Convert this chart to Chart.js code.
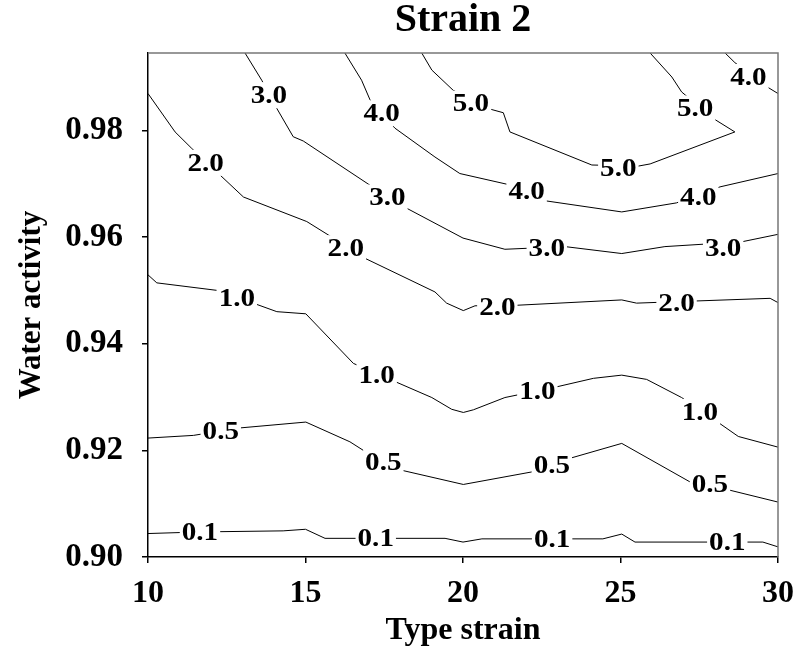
<!DOCTYPE html>
<html>
<head>
<meta charset="utf-8">
<title>Strain 2</title>
<script src="https://cdn.jsdelivr.net/npm/chart.js@4.4.0/dist/chart.umd.min.js"></script>
<style>
  html, body { margin: 0; padding: 0; background: #fff; }
</style>
</head>
<body>
<canvas id="contourChart" width="798" height="653"></canvas>
<script>
// Strain 2 contour plot: x = type strain, y = water activity
const xTicks = [10, 15, 20, 25, 30];
const yTicks = [0.90, 0.92, 0.94, 0.96, 0.98];
const levels = ['0.1', '0.5', '1.0', '2.0', '3.0', '4.0', '5.0', '4.0'];

// contour lines
const c01X = [10, 11.65, 14.29, 15.0, 15.62, 19.43, 20.0, 20.6, 24.44, 25.04, 25.46, 29.52, 30];
const c01Y = [0.9044, 0.9047, 0.9049, 0.9052, 0.9035, 0.9035, 0.9028, 0.9034, 0.9034, 0.9043, 0.9028, 0.9028, 0.9019];
const c05X = [10, 11.44, 12.92, 15.01, 16.41, 16.94, 18.10, 20.01, 22.23, 23.45, 25.04, 27.26, 28.42, 30];
const c05Y = [0.9223, 0.9228, 0.9242, 0.9253, 0.9216, 0.9196, 0.9162, 0.9136, 0.9160, 0.9186, 0.9213, 0.9139, 0.9126, 0.9103];
const c10X = [10, 10.28, 12.18, 13.34, 14.09, 15.01, 16.52, 17.84, 19.01, 19.64, 20.01, 20.33, 21.33, 22.97, 24.14, 25.04, 25.83, 26.94, 28.11, 28.74, 30];
const c10Y = [0.9529, 0.9514, 0.9500, 0.9476, 0.9460, 0.9456, 0.9363, 0.9329, 0.9299, 0.9277, 0.9271, 0.9276, 0.9299, 0.9319, 0.9335, 0.9341, 0.9333, 0.9299, 0.9252, 0.9226, 0.9206];
const c20X = [10, 10.86, 11.39, 12.29, 13.03, 15.04, 15.72, 16.89, 19.11, 19.48, 20.01, 20.38, 21.70, 25.04, 25.51, 27.37, 29.75, 30];
const c20Y = [0.9869, 0.9797, 0.9766, 0.9716, 0.9675, 0.9629, 0.9604, 0.9560, 0.9497, 0.9476, 0.9462, 0.9471, 0.9472, 0.9482, 0.9476, 0.9480, 0.9485, 0.9477];
const c30X = [13.08, 13.61, 14.09, 14.61, 14.93, 17.05, 18.21, 20.0, 21.33, 23.24, 25.04, 26.41, 28.85, 30];
const c30Y = [0.9945, 0.9894, 0.9841, 0.9788, 0.9780, 0.9697, 0.9654, 0.9598, 0.9577, 0.9582, 0.9569, 0.9582, 0.9591, 0.9605];
const c40X = [16.25, 16.78, 17.05, 17.84, 19.11, 19.90, 21.39, 22.60, 25.04, 26.78, 28.16, 30];
const c40Y = [0.9945, 0.9894, 0.9857, 0.9804, 0.9750, 0.9719, 0.9699, 0.9668, 0.9647, 0.9664, 0.9694, 0.9719];
const c50X = [18.69, 19.01, 19.69, 20.91, 21.28, 21.49, 24.09, 25.57, 25.94, 28.63, 27.95, 26.94, 26.63, 25.94];
const c50Y = [0.9945, 0.9913, 0.9875, 0.9839, 0.9833, 0.9797, 0.9735, 0.9733, 0.9737, 0.9797, 0.9822, 0.9872, 0.9900, 0.9945];
const c40bX = [28.32, 28.63, 29.64, 30];
const c40bY = [0.9945, 0.9927, 0.9882, 0.9869];

// where the level labels sit on each line
const l01X = [11.65, 17.23, 22.83, 28.39];
const l01Y = [0.9047, 0.9035, 0.9034, 0.9028];
const l05X = [12.31, 17.47, 22.82, 27.84];
const l05Y = [0.9235, 0.9178, 0.9172, 0.9136];
const l10X = [12.82, 17.26, 22.36, 27.52];
const l10Y = [0.9485, 0.9341, 0.9310, 0.9272];
const l20X = [11.83, 16.28, 21.09, 26.78];
const l20Y = [0.9739, 0.9579, 0.9469, 0.9476];
const l30X = [13.84, 17.60, 22.66, 28.26];
const l30Y = [0.9866, 0.9674, 0.9579, 0.9579];
const l40X = [17.42, 22.02, 27.47];
const l40Y = [0.9832, 0.9685, 0.9675];
const l50X = [20.25, 24.93, 27.37];
const l50Y = [0.9850, 0.9729, 0.9841];
const l40bX = [29.06];
const l40bY = [0.9900];

const lineXs = [c01X, c05X, c10X, c20X, c30X, c40X, c50X, c40bX];
const lineYs = [c01Y, c05Y, c10Y, c20Y, c30Y, c40Y, c50Y, c40bY];
const labelXs = [l01X, l05X, l10X, l20X, l30X, l40X, l50X, l40bX];
const labelYs = [l01Y, l05Y, l10Y, l20Y, l30Y, l40Y, l50Y, l40bY];

const serif = "'Liberation Serif', 'Times New Roman', serif";

function zip(xs, ys) {
    return xs.map((x, i) => ({ x: x, y: ys[i] }));
}

const datasets = levels.map((lvl, i) => ({
    label: lvl,
    data: zip(lineXs[i], lineYs[i]),
    labelPoints: zip(labelXs[i], labelYs[i]),
    borderColor: '#000',
    borderWidth: 1,
    pointRadius: 0,
    showLine: true,
    fill: false,
    tension: 0
}));

// level numbers written on the lines, with a white gap behind them
const contourLabels = {
    id: 'contourLabels',
    afterDatasetsDraw(chart) {
        const ctx = chart.ctx;
        const xs = chart.scales.x;
        const ys = chart.scales.y;
        const stretch = 1.12;
        ctx.save();
        ctx.font = "bold 26px " + serif;
        ctx.textAlign = 'center';
        ctx.textBaseline = 'middle';
        chart.data.datasets.forEach(ds => {
            ds.labelPoints.forEach(p => {
                const px = xs.getPixelForValue(p.x);
                const py = ys.getPixelForValue(p.y);
                const w = ctx.measureText(ds.label).width * stretch;
                ctx.fillStyle = '#fff';
                ctx.fillRect(px - w / 2 - 2, py - 13, w + 4, 26);
                ctx.save();
                ctx.translate(px, py);
                ctx.scale(stretch, 1);
                ctx.fillStyle = '#000';
                ctx.fillText(ds.label, 0, 1);
                ctx.restore();
            });
        });
        ctx.restore();
    }
};

// grey top and right edges of the frame
const frame = {
    id: 'frame',
    afterDraw(chart) {
        const { left, right, top, bottom } = chart.chartArea;
        const ctx = chart.ctx;
        ctx.save();
        ctx.strokeStyle = '#777';
        ctx.lineWidth = 1.5;
        ctx.beginPath();
        ctx.moveTo(left, top);
        ctx.lineTo(right, top);
        ctx.lineTo(right, bottom);
        ctx.stroke();
        ctx.restore();
    }
};

new Chart(document.getElementById('contourChart'), {
    type: 'scatter',
    data: { datasets: datasets },
    plugins: [contourLabels, frame],
    options: {
        responsive: false,
        animation: false,
        layout: { padding: { top: 0, right: 20, left: 0, bottom: 0 } },
        plugins: {
            legend: { display: false },
            tooltip: { enabled: false },
            title: {
                display: true,
                text: 'Strain 2',
                fullSize: false,
                color: '#000',
                font: { family: serif, size: 40, weight: 'bold', lineHeight: 1.0 },
                padding: { top: 1, bottom: 12 }
            }
        },
        scales: {
            x: {
                type: 'linear',
                min: 10,
                max: 30,
                afterBuildTicks: s => { s.ticks = xTicks.map(v => ({ value: v })); },
                afterFit: s => { s.height = 96; s.paddingLeft = 0; s.paddingRight = 0; },
                grid: { drawOnChartArea: false, drawTicks: true, tickLength: 6, color: '#000', lineWidth: 1.5 },
                border: { display: true, color: '#000', width: 1.5 },
                ticks: {
                    color: '#000',
                    font: { family: serif, size: 32, weight: 'bold' },
                    padding: 12,
                    maxRotation: 0,
                    autoSkip: false
                },
                title: {
                    display: true,
                    text: 'Type strain',
                    color: '#000',
                    font: { family: serif, size: 32, weight: 'bold' },
                    padding: { top: 0, bottom: 3 }
                }
            },
            y: {
                type: 'linear',
                min: 0.90,
                max: 0.9945,
                afterBuildTicks: s => { s.ticks = yTicks.map(v => ({ value: v })); },
                afterFit: s => { s.width = 148; s.paddingTop = 0; s.paddingBottom = 0; },
                grid: { drawOnChartArea: false, drawTicks: true, tickLength: 6, color: '#000', lineWidth: 1.5 },
                border: { display: true, color: '#000', width: 1.5 },
                ticks: {
                    color: '#000',
                    font: { family: serif, size: 33, weight: 'bold' },
                    padding: 19,
                    autoSkip: false,
                    callback: v => v.toFixed(2)
                },
                title: {
                    display: true,
                    text: 'Water activity',
                    color: '#000',
                    font: { family: serif, size: 31, weight: 'bold' },
                    padding: { top: 13, bottom: 0 }
                }
            }
        }
    }
});
</script>
</body>
</html>
